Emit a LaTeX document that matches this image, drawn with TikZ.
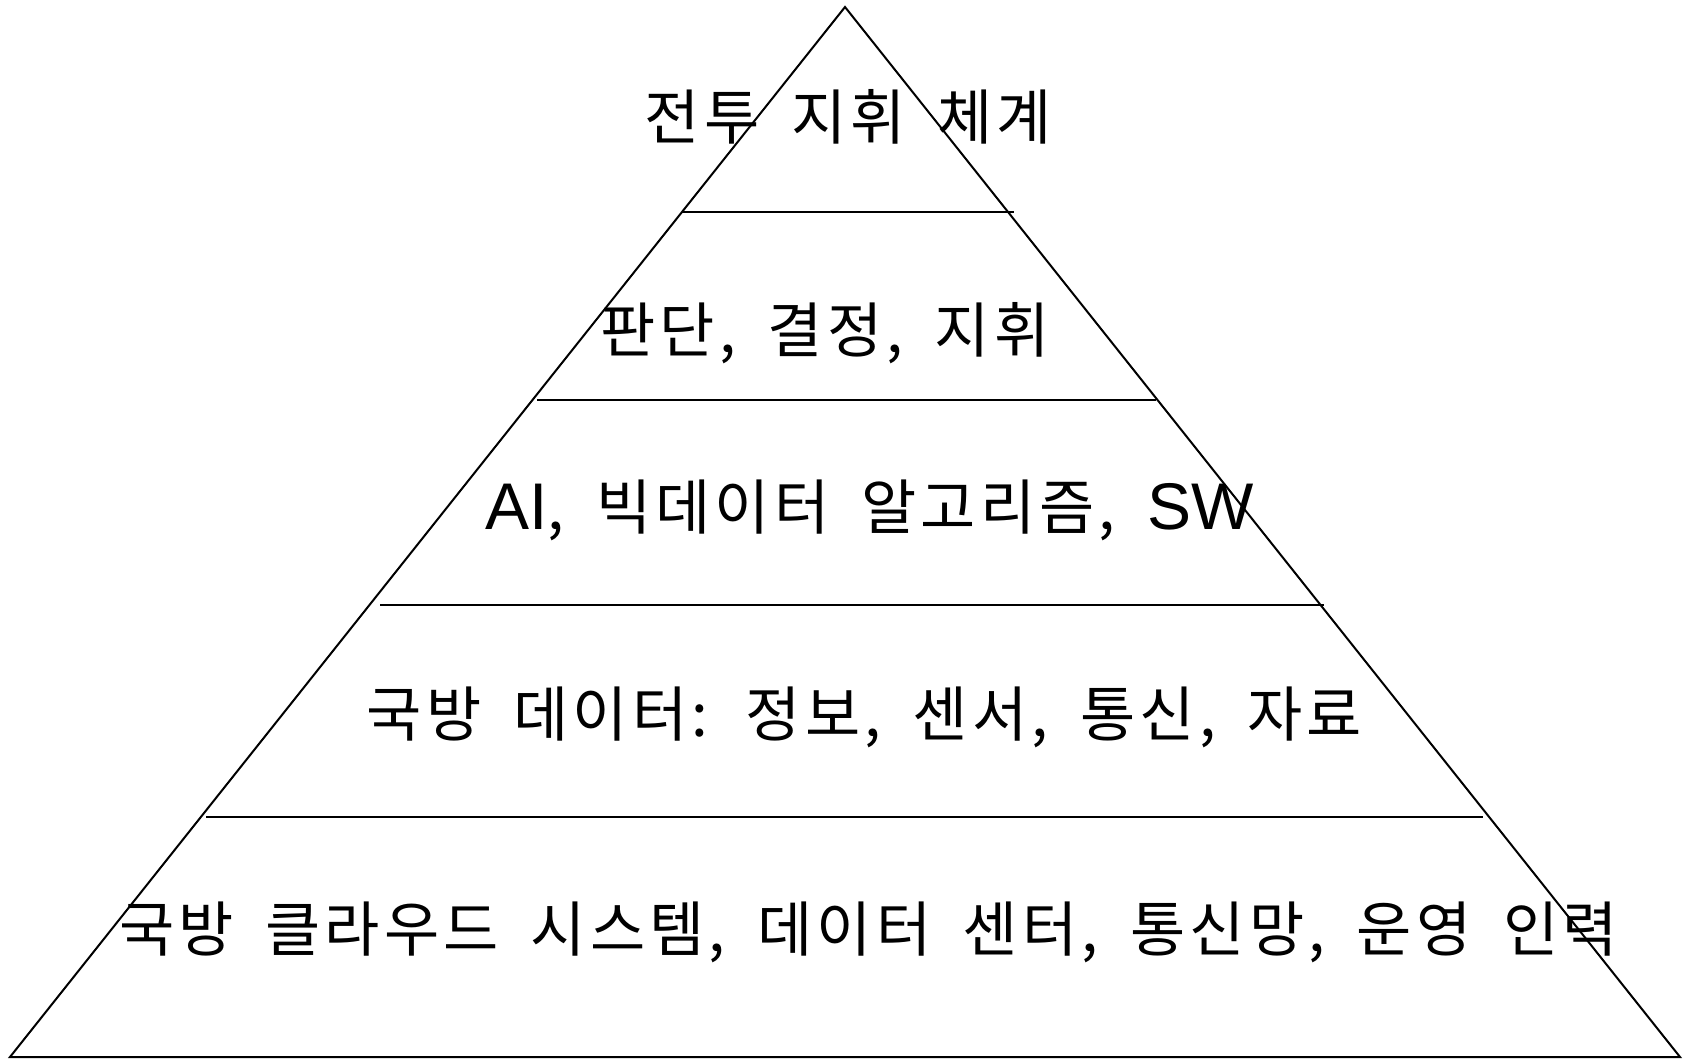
\documentclass[tikz,border=0pt]{standalone}
\usepackage{fontspec}
\setmainfont[WordSpace=1.8,LetterSpace=7]{Noto Sans CJK KR}
\newfontfamily\latinf{Liberation Sans}
\newcommand{\lat}[1]{{\latinf\fontsize{66}{72}\selectfont #1}}
\begin{document}
\begin{tikzpicture}[x=1pt,y=-1pt,line width=2pt,
  lbl/.style={anchor=base,inner sep=0pt,font=\fontsize{60}{72}\selectfont},
  tier/.style={draw,line width=2pt}]
\useasboundingbox (0,0) rectangle (1685,1059);
\coordinate (apex) at (845,7);
\coordinate (bl) at (10,1057);
\coordinate (br) at (1680,1057);
\draw[line join=miter] (apex) -- (bl) -- (br) -- cycle;
\coordinate (l1a) at (681.7,212.5); \coordinate (l1b) at (1014.3,212.5);
\coordinate (l2a) at (537.3,400);   \coordinate (l2b) at (1156.3,400);
\coordinate (l3a) at (380.4,605);   \coordinate (l3b) at (1324,605);
\coordinate (l4a) at (206,816.5);   \coordinate (l4b) at (1483,816.5);
\draw[tier] (l1a) -- (l1b);
\draw[tier] (l2a) -- (l2b);
\draw[tier] (l3a) -- (l3b);
\draw[tier] (l4a) -- (l4b);
\node[lbl] (t1) at (848.5,140) {전투 지휘 체계};
\node[lbl] (t2) at (825,352) {판단, 결정, 지휘};
\node[lbl] (t3) at (869.5,529) {\lat{AI}, 빅데이터 알고리즘, \lat{SW}};
\node[lbl] (t4) at (864.5,736) {국방 데이터: 정보, 센서, 통신, 자료};
\node[lbl] (t5) at (868.5,951) {국방 클라우드 시스템, 데이터 센터, 통신망, 운영 인력};
\end{tikzpicture}
\end{document}
